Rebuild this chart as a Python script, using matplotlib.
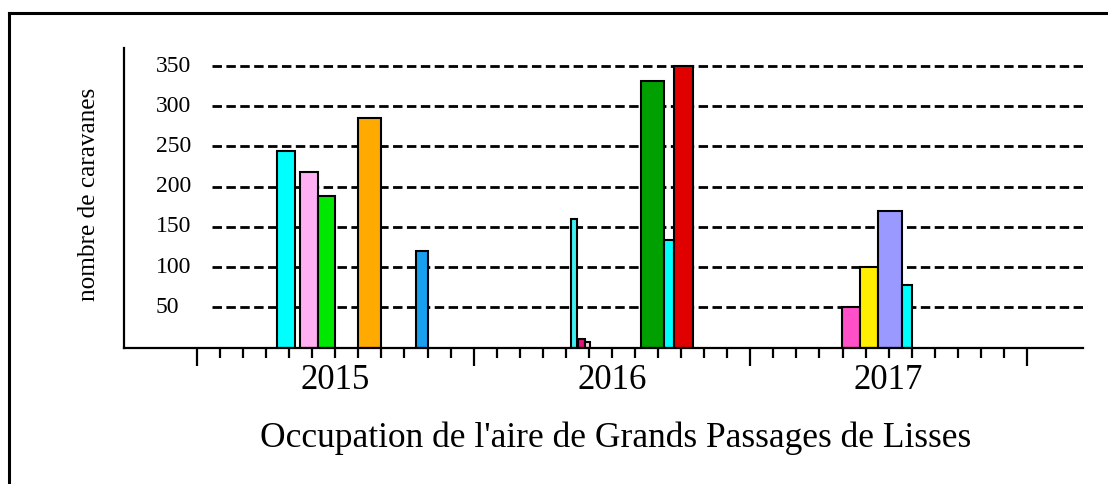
import numpy as np
import matplotlib
matplotlib.use('Agg')
import matplotlib.pyplot as plt
from matplotlib.lines import Line2D
import matplotlib.transforms as mtransforms

plt.rcParams['font.family'] = ['Liberation Serif', 'DejaVu Serif']

# occupation periods, in months counted from 1 Jan 2015
arrivals = [3.47, 4.47, 5.25, 6.98, 9.50,
            16.22, 16.52, 16.83, 19.24, 20.25, 20.69,
            27.98, 28.75, 29.55, 30.56]
departures = [4.25, 5.25, 5.99, 7.98, 10.02,
              16.49, 16.83, 17.04, 20.25, 20.69, 21.52,
              28.75, 29.55, 30.56, 31.03]
caravanes = [244, 218, 188, 285, 120,
             160, 10, 7, 331, 134, 350,
             50, 100, 170, 78]
colors = ['#00ffff', '#ffb0f2', '#00e800', '#ffaa00', '#189ff0',
          '#40f0f0', '#e8107a', '#ffc8dc', '#00a000', '#00ffff', '#e00000',
          '#ff50c8', '#ffee00', '#9999ff', '#00ffff']
years = ['2015', '2016', '2017']
yticks = [50, 100, 150, 200, 250, 300, 350]

fig = plt.figure(figsize=(11.08, 4.84), dpi=100)
ax = fig.add_axes([124/1108, 1 - 347.5/484, 959/1108, 299.5/484])

# frame around the figure (cut at right and bottom)
fig.add_artist(Line2D([9/1108, 1], [1 - 13/484, 1 - 13/484], color='black', lw=2.2))
fig.add_artist(Line2D([9/1108, 9/1108], [0, 1 - 13/484], color='black', lw=2.2))

# dashed horizontal lines
for v in yticks:
    ax.axhline(v, xmin=0.0918, xmax=1, color='black', lw=2,
               linestyle=(0, (3.4, 1.6)), zorder=1)

left = np.array(arrivals)
width = np.array(departures) - left
ax.bar(left, caravanes, width=width, align='edge', color=colors,
       edgecolor='black', linewidth=1.5, zorder=2)

ax.set_xlim(-3.166, 38.43)
ax.set_ylim(0, 372.5)

for s in ['top', 'right']:
    ax.spines[s].set_visible(False)
for s in ['left', 'bottom']:
    ax.spines[s].set_linewidth(1.6)

ax.set_xticks([0, 12, 24, 36])
ax.set_xticks([m for m in range(37) if m % 12], minor=True)
ax.set_xticklabels([])
ax.tick_params(axis='x', which='major', length=13, width=1.6, direction='out')
ax.tick_params(axis='x', which='minor', length=7, width=1.6, direction='out')
ax.set_yticks([])

# y labels inside the plot
trans_y = mtransforms.blended_transform_factory(ax.transAxes, ax.transData)
for v in yticks:
    ax.text(0.0334, v, str(v), transform=trans_y, ha='left', va='center', fontsize=17)

# year labels
trans_x = mtransforms.blended_transform_factory(ax.transData, ax.transAxes)
for i, y in enumerate(years):
    ax.text(12 * i + 6, -0.1386, y, transform=trans_x, ha='center', va='baseline',
            fontsize=25)

fig.text(616/1108, 1 - 447/484, "Occupation de l'aire de Grands Passages de Lisses",
         ha='center', va='baseline', fontsize=25.5)
fig.text(89/1108, 1 - 194/484, 'nombre de caravanes', rotation=90,
         ha='center', va='center', fontsize=18.2)

fig.savefig('out.png', dpi=100)
